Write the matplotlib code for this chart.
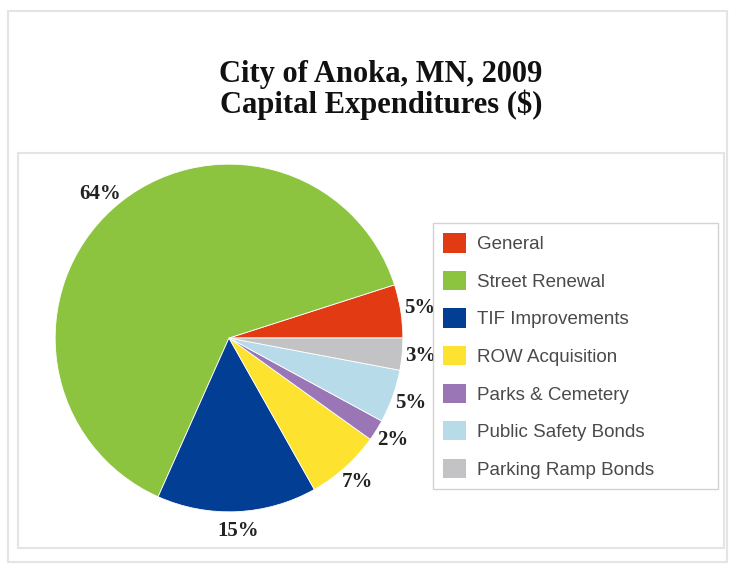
import matplotlib
matplotlib.use("Agg")
import matplotlib.pyplot as plt
from matplotlib.patches import Rectangle

# data
categories = ["General", "Street Renewal", "TIF Improvements", "ROW Acquisition",
              "Parks & Cemetery", "Public Safety Bonds", "Parking Ramp Bonds"]
shares = [5, 64, 15, 7, 2, 5, 3]
colors = ["#e23b13", "#8cc43f", "#023e93", "#fde22f", "#9b76b6", "#b7dbe8", "#c3c3c5"]

W, H = 734, 565
fig = plt.figure(figsize=(W / 100, H / 100), dpi=100)

def fx(px):
    return px / W

def fy(py):
    return 1 - py / H

# outer frame and inner plot box
fig.patches.append(Rectangle((fx(8), fy(562)), fx(727) - fx(8), fy(11) - fy(562),
                             transform=fig.transFigure, fill=False, ec="#e4e4e4", lw=1.5))
fig.patches.append(Rectangle((fx(18), fy(548)), fx(724) - fx(18), fy(153) - fy(548),
                             transform=fig.transFigure, fill=False, ec="#e4e4e4", lw=1.5))

fig.text(fx(381), fy(90), "City of Anoka, MN, 2009\nCapital Expenditures ($)",
         ha="center", va="center", family="Liberation Serif", weight="bold",
         fontsize=22, linespacing=1.05, color="#111111")

# pie: centre (229, 338), radius ~174 px
cx, cy, half = 229, 338, 226
ax = fig.add_axes([fx(cx - half), fy(cy + half), 2 * half / W, 2 * half / H])
wedges, texts, autotexts = ax.pie(
    shares, colors=colors, startangle=0, counterclock=True,
    autopct=lambda p: "%d%%" % round(p * sum(shares) / 100),
    pctdistance=1.11, wedgeprops=dict(linewidth=0.6, edgecolor="white"),
    textprops=dict(family="Liberation Serif", weight="bold", fontsize=15, color="#222222"))
ax.set_xlim(-1.3, 1.3)
ax.set_ylim(-1.3, 1.3)
ax.axis("off")

leg = fig.legend(wedges, categories, loc="upper left", mode="expand",
                 bbox_to_anchor=(fx(433), fy(488), fx(718) - fx(433), fy(223) - fy(488)),
                 fancybox=False,
                 prop=dict(family="Liberation Sans", size=13.5),
                 handlelength=1.2, handleheight=1.2, labelspacing=0.94,
                 handletextpad=0.6, borderpad=0.55, borderaxespad=0)
leg.get_frame().set_edgecolor("#c8c8c8")
leg.get_frame().set_linewidth(1.0)
for t in leg.get_texts():
    t.set_color("#4a4a4a")
for h in leg.legend_handles:
    h.set_edgecolor("none")

fig.savefig("out.png", dpi=100)
